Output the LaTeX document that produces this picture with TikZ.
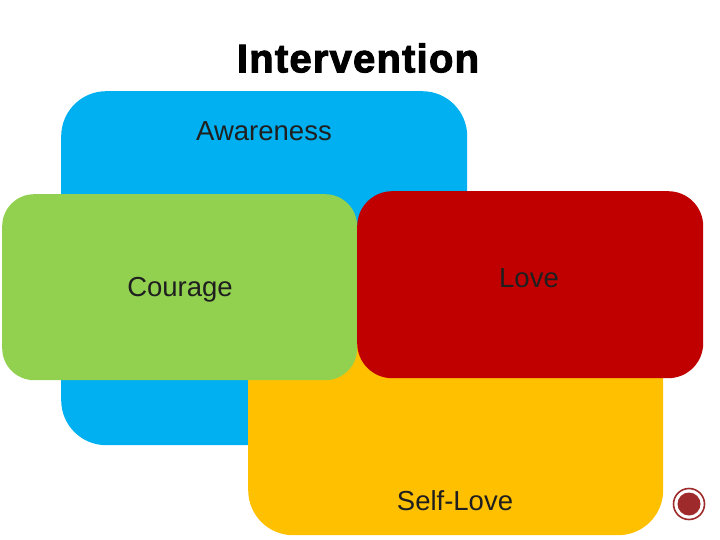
\documentclass[tikz,border=0pt]{standalone}
\usepackage{fontspec}
\setmainfont{Liberation Sans}
\begin{document}
\begin{tikzpicture}[x=1pt,y=-1pt]
\definecolor{cblue}{HTML}{00B0F0}
\definecolor{cgreen}{HTML}{92D050}
\definecolor{cred}{HTML}{C00000}
\definecolor{cyellow}{HTML}{FFC000}
\definecolor{cring}{HTML}{9E2A2B}
\tikzset{
  panel/.style={rectangle, anchor=north west, inner sep=0pt, draw=none},
  lbl/.style={font=\fontsize{27.5}{32}\selectfont, text=black!88}
}
\useasboundingbox (0,0) rectangle (720,540);
\node[panel, fill=cblue, rounded corners=45pt, minimum width=406pt, minimum height=354pt] (aw) at (61,91) {};
\node[panel, fill=cyellow, rounded corners=45pt, minimum width=415pt, minimum height=235pt] (sl) at (248,300) {};
\node[panel, fill=cgreen, rounded corners=32pt, minimum width=355pt, minimum height=186pt] (co) at (2,194) {};
\node[panel, fill=cred, rounded corners=35pt, minimum width=346pt, minimum height=187pt] (lo) at (357,191) {};
\node[lbl] (awt) at (264,131) {Awareness};
\node[lbl] (cot) at (180,290) {Courage};
\node[lbl] (lot) at (529,278) {Love};
\node[lbl] (slt) at (455,501) {Self-Love};
\node[font=\fontsize{40}{46}\bfseries, text=black, inner sep=0pt] (title) at (358,58) {\addfontfeature{FakeBold=2.5,LetterSpace=3}Intervention};
\node[circle, draw=cring, line width=1.6pt, fill=white, minimum size=31pt, inner sep=0pt] (btn) at (689,504) {};
\node[circle, fill=cring, minimum size=23pt, inner sep=0pt] (btnin) at (btn) {};
\end{tikzpicture}
\end{document}
